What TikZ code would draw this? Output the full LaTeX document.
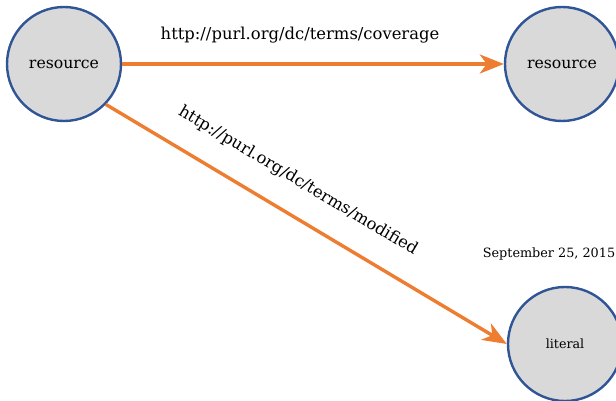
\documentclass[tikz,border=0pt]{standalone}
\usepackage{fontspec}
\setmainfont{DejaVu Serif}
\usetikzlibrary{arrows.meta}
\definecolor{edgeorange}{HTML}{ED7D31}
\definecolor{nodefill}{HTML}{D9D9D9}
\definecolor{nodeblue}{HTML}{2F5597}
\tikzset{
  rdfnode/.style={circle, draw=nodeblue, fill=nodefill, line width=2.4pt, minimum size=114pt, inner sep=0pt},
  rdfedge/.style={draw=edgeorange, line width=3.4pt, -{Stealth[length=24pt, width=19pt, inset=7pt]}},
  edgelabel/.style={font=\fontsize{16.4}{19}\selectfont, text=black}
}
\begin{document}
\begin{tikzpicture}[x=1pt,y=1pt]
\useasboundingbox (0,0) rectangle (616,401);
\clip (0,0) rectangle (616,401);
\node[rdfnode, font=\fontsize{15.7}{18}\selectfont] (r1) at (64,337) {resource};
\node[rdfnode, font=\fontsize{15.7}{18}\selectfont] (r2) at (562,337) {resource};
\node[rdfnode, font=\fontsize{12.7}{15}\selectfont] (lit) at (565,57) {literal};
\draw[rdfedge] (r1.east) -- (r2.west);
\draw[rdfedge] (r1.-44) -- (lit.west);
\node[edgelabel] (l1) at (300,366) {http://purl.org/dc/terms/coverage};
\node[edgelabel, rotate=-30.7] (l2) at (298,220) {http://purl.org/dc/terms/modified};
\node[font=\fontsize{12.8}{15}\selectfont] (date) at (549,147) {September 25, 2015};
\end{tikzpicture}
\end{document}
